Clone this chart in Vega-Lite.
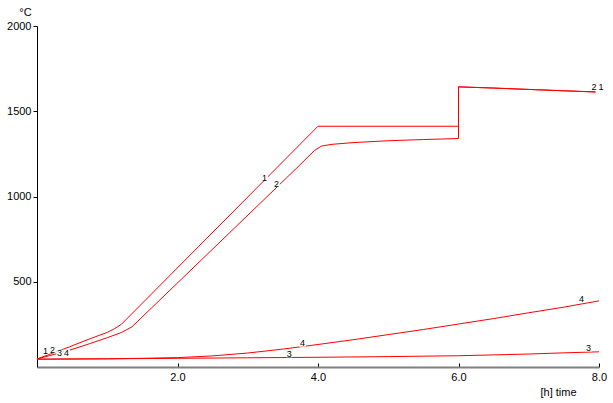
{
  "$schema": "https://vega.github.io/schema/vega-lite/v6.json",
  "width": 562,
  "height": 341,
  "autosize": {"type": "none"},
  "padding": {"left": 37, "top": 26, "right": 14, "bottom": 36},
  "background": "white",
  "config": {
    "view": {"stroke": null},
    "font": "Liberation Sans",
    "axis": {
      "grid": false,
      "labelFont": "Liberation Sans",
      "titleFont": "Liberation Sans",
      "labelFontSize": 11,
      "titleFontSize": 11,
      "labelColor": "#000",
      "titleColor": "#000",
      "titleFontWeight": "normal"
    }
  },
  "datasets": {
    "curves": [
      {"series": "1", "i": 0, "t": 0, "v": 47},
      {"series": "1", "i": 1, "t": 0.46, "v": 118},
      {"series": "1", "i": 2, "t": 0.75, "v": 165},
      {"series": "1", "i": 3, "t": 1.0, "v": 203},
      {"series": "1", "i": 4, "t": 1.1, "v": 224},
      {"series": "1", "i": 5, "t": 1.2, "v": 250},
      {"series": "1", "i": 6, "t": 4.0, "v": 1412},
      {"series": "1", "i": 7, "t": 6.0, "v": 1412},
      {"series": "1", "i": 8, "t": 6.0, "v": 1643},
      {"series": "1", "i": 9, "t": 6.5, "v": 1636},
      {"series": "1", "i": 10, "t": 7.0, "v": 1628},
      {"series": "1", "i": 11, "t": 7.5, "v": 1620},
      {"series": "1", "i": 12, "t": 7.95, "v": 1613},
      {"series": "2", "i": 0, "t": 0, "v": 47},
      {"series": "2", "i": 1, "t": 0.46, "v": 98},
      {"series": "2", "i": 2, "t": 0.75, "v": 137},
      {"series": "2", "i": 3, "t": 1.0, "v": 172},
      {"series": "2", "i": 4, "t": 1.2, "v": 202},
      {"series": "2", "i": 5, "t": 1.35, "v": 235},
      {"series": "2", "i": 6, "t": 3.7, "v": 1168},
      {"series": "2", "i": 7, "t": 3.95, "v": 1270},
      {"series": "2", "i": 8, "t": 4.05, "v": 1296},
      {"series": "2", "i": 9, "t": 4.2, "v": 1306},
      {"series": "2", "i": 10, "t": 4.5, "v": 1316},
      {"series": "2", "i": 11, "t": 5.0, "v": 1327},
      {"series": "2", "i": 12, "t": 5.5, "v": 1334},
      {"series": "2", "i": 13, "t": 6.0, "v": 1340},
      {"series": "2", "i": 14, "t": 6.0, "v": 1643},
      {"series": "2", "i": 15, "t": 6.5, "v": 1636},
      {"series": "2", "i": 16, "t": 7.0, "v": 1628},
      {"series": "2", "i": 17, "t": 7.5, "v": 1620},
      {"series": "2", "i": 18, "t": 7.95, "v": 1613},
      {"series": "3", "i": 0, "t": 0, "v": 46},
      {"series": "3", "i": 1, "t": 1, "v": 48},
      {"series": "3", "i": 2, "t": 2, "v": 51},
      {"series": "3", "i": 3, "t": 3, "v": 54},
      {"series": "3", "i": 4, "t": 4, "v": 57},
      {"series": "3", "i": 5, "t": 5, "v": 61},
      {"series": "3", "i": 6, "t": 6, "v": 66},
      {"series": "3", "i": 7, "t": 6.5, "v": 71},
      {"series": "3", "i": 8, "t": 7, "v": 76},
      {"series": "3", "i": 9, "t": 7.5, "v": 83},
      {"series": "3", "i": 10, "t": 8, "v": 89},
      {"series": "4", "i": 0, "t": 0, "v": 46},
      {"series": "4", "i": 1, "t": 1, "v": 48},
      {"series": "4", "i": 2, "t": 1.5, "v": 51},
      {"series": "4", "i": 3, "t": 2, "v": 55},
      {"series": "4", "i": 4, "t": 2.5, "v": 65},
      {"series": "4", "i": 5, "t": 3, "v": 82},
      {"series": "4", "i": 6, "t": 3.5, "v": 105},
      {"series": "4", "i": 7, "t": 4, "v": 132},
      {"series": "4", "i": 8, "t": 4.5, "v": 160},
      {"series": "4", "i": 9, "t": 5, "v": 190},
      {"series": "4", "i": 10, "t": 5.5, "v": 220},
      {"series": "4", "i": 11, "t": 6, "v": 252},
      {"series": "4", "i": 12, "t": 6.5, "v": 284},
      {"series": "4", "i": 13, "t": 7, "v": 318},
      {"series": "4", "i": 14, "t": 7.5, "v": 351},
      {"series": "4", "i": 15, "t": 8, "v": 388}
    ],
    "labels": [
      {"label": "1", "t": 0.12, "v": 94},
      {"label": "2", "t": 0.22, "v": 100},
      {"label": "3", "t": 0.32, "v": 82},
      {"label": "4", "t": 0.42, "v": 82},
      {"label": "1", "t": 3.24, "v": 1111},
      {"label": "2", "t": 3.41, "v": 1075},
      {"label": "4", "t": 3.78, "v": 138},
      {"label": "3", "t": 3.59, "v": 76},
      {"label": "2", "t": 7.93, "v": 1644},
      {"label": "1", "t": 8.03, "v": 1644},
      {"label": "4", "t": 7.75, "v": 396},
      {"label": "3", "t": 7.85, "v": 111}
    ]
  },
  "encoding": {
    "x": {
      "field": "t",
      "type": "quantitative",
      "scale": {"domain": [0, 8], "nice": false, "zero": false},
      "axis": {
        "values": [2, 4, 6, 8],
        "format": ".1f",
        "title": "[h] time",
        "titleX": 521,
        "titleY": 25,
        "titleAlign": "center",
        "titleBaseline": "middle",
        "domainColor": "#808080",
        "domainWidth": 2,
        "tickColor": "#000",
        "tickSize": -4,
        "labelPadding": 8,
        "labelFlush": false
      }
    },
    "y": {
      "field": "v",
      "type": "quantitative",
      "scale": {"domain": [0, 2000], "nice": false, "zero": false},
      "axis": {
        "values": [500, 1000, 1500, 2000],
        "format": "d",
        "title": "°C",
        "titleAngle": 0,
        "titleX": -12,
        "titleY": -14,
        "titleAlign": "center",
        "titleBaseline": "middle",
        "domainColor": "#000",
        "tickColor": "#000",
        "tickSize": 4,
        "labelPadding": 2,
        "labelFlush": false
      }
    }
  },
  "layer": [
    {
      "data": {"name": "curves"},
      "mark": {"type": "line", "strokeWidth": 1, "color": "#ff0000"},
      "encoding": {
        "detail": {"field": "series", "type": "nominal"},
        "order": {"field": "i", "type": "quantitative"}
      }
    },
    {
      "data": {"name": "labels"},
      "mark": {"type": "point", "shape": "square", "filled": true, "color": "white", "opacity": 1, "size": 42}
    },
    {
      "data": {"name": "labels"},
      "mark": {"type": "text", "fontSize": 9, "color": "#000", "font": "Liberation Sans"},
      "encoding": {"text": {"field": "label", "type": "nominal"}}
    }
  ]
}
